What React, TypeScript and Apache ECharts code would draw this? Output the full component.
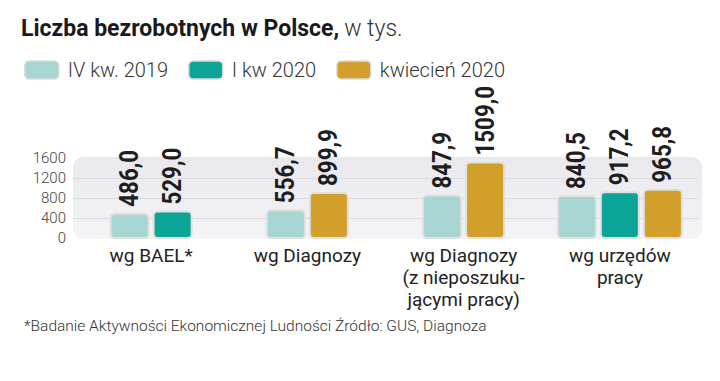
import React, { useEffect, useRef } from "react";
import * as echarts from "echarts";

const categories = [
  "wg BAEL*",
  "wg Diagnozy",
  "wg Diagnozy\n(z nieposzuku-\njącymi pracy)",
  "wg urzędów\npracy",
];
const seriesNames = ["IV kw. 2019", "I kw 2020", "kwiecień 2020"];
const q4_2019: (number | null)[] = [486.0, 556.7, 847.9, 840.5];
const q1_2020: (number | null)[] = [529.0, null, null, 917.2];
const apr_2020: (number | null)[] = [null, 899.9, 1509.0, 965.8];
const yMin = 0;
const yMax = 1600;
const yInterval = 400;

const allSeries = [q4_2019, q1_2020, apr_2020];
const colors = ["#a7d6d2", "#0ba497", "#d19f2a"];

const fmt = (v: number) => v.toFixed(1).replace(".", ",");

export default function App() {
  const ref = useRef<HTMLDivElement>(null);
  useEffect(() => {
    document.body.style.margin = "0";
    const chart = echarts.init(ref.current!, null, { renderer: "svg" });
    const barW = 38;
    const gap = 5;
    const renderItem = (params: any, api: any) => {
      const cat = api.value(0);
      const val = api.value(1);
      const si = params.seriesIndex;
      const present = allSeries
        .map((arr, k) => (arr[cat] != null ? k : -1))
        .filter((k) => k >= 0);
      const slot = present.indexOf(si);
      const n = present.length;
      const [cx0, yTop] = api.coord([cat, val]);
      const [, y0] = api.coord([cat, 0]);
      const cx = cx0 + (slot - (n - 1) / 2) * (barW + gap);
      return {
        type: "group",
        children: [
          {
            type: "rect",
            shape: { x: cx - barW / 2, y: yTop, width: barW, height: y0 - yTop, r: 4 },
            style: { fill: colors[si], stroke: "#e0e0e0", lineWidth: 2 },
          },
          {
            type: "text",
            x: cx,
            y: yTop - 7,
            rotation: Math.PI / 2,
            scaleX: 0.86,
            style: {
              text: fmt(val),
              fill: "#1e1e1e",
              font: "bold 26px Roboto",
              align: "left",
              verticalAlign: "middle",
            },
          },
        ],
      };
    };

    chart.setOption({
      animation: false,
      backgroundColor: "#ffffff",
      title: {
        left: 16,
        top: 12,
        text: "{b|Liczba bezrobotnych w Polsce,} {l|w tys.}",
        textStyle: {
          rich: {
            b: { fontFamily: "Roboto", fontWeight: "bold", fontSize: 23, color: "#1a1a1a" },
            l: { fontFamily: "Roboto", fontWeight: 300, fontSize: 23, color: "#333" },
          },
        },
      },
      legend: {
        left: 19,
        top: 55,
        icon: "roundRect",
        itemWidth: 34,
        itemHeight: 18,
        itemGap: 20,
        data: seriesNames,
        itemStyle: { borderColor: "#dadada", borderWidth: 1.5 },
        textStyle: {
          fontFamily: "Roboto",
          fontWeight: 300,
          fontSize: 20,
          color: "#333",
          padding: [0, 0, 0, 4],
        },
      },
      grid: { left: 73, right: 22, top: 158, bottom: 143, containLabel: false },
      graphic: [
        {
          type: "rect",
          z: -10,
          shape: { x: 73, y: 157, width: 629, height: 82, r: 10 },
          style: {
            fill: new echarts.graphic.LinearGradient(0, 0, 0, 1, [
              { offset: 0, color: "#e9e8ed" },
              { offset: 1, color: "#f4f4f6" },
            ]),
          },
        },
        {
          type: "text",
          left: 24,
          top: 318,
          style: {
            text: "*Badanie Aktywności Ekonomicznej Ludności Źródło: GUS, Diagnoza",
            font: "300 15.5px Roboto",
            fill: "#333",
          },
        },
      ],
      xAxis: {
        type: "category",
        data: categories,
        axisLine: { show: false },
        axisTick: { show: false },
        axisLabel: {
          interval: 0,
          margin: 6,
          fontFamily: "Roboto",
          fontSize: 19,
          lineHeight: 22,
          color: "#222",
        },
      },
      yAxis: {
        type: "value",
        min: yMin,
        max: yMax,
        interval: yInterval,
        axisLine: { show: false },
        axisTick: { show: false },
        axisLabel: {
          margin: 7,
          fontFamily: "Roboto",
          fontWeight: 300,
          fontSize: 15,
          color: "#444",
          formatter: (v: number) => String(v),
        },
        splitLine: {
          lineStyle: { color: "#dcdce0", width: 1 },
          showMinLine: false,
          showMaxLine: false,
        },
      },
      series: allSeries.map((arr, k) => ({
        type: "custom",
        name: seriesNames[k],
        clip: false,
        itemStyle: { color: colors[k] },
        encode: { x: 0, y: 1 },
        renderItem,
        data: arr
          .map((v, i) => (v == null ? null : [i, v]))
          .filter((d) => d != null),
      })),
    });
    return () => chart.dispose();
  }, []);
  return (
    <div
      ref={ref}
      style={{ position: "absolute", left: 0, top: 0, width: 720, height: 381 }}
    />
  );
}
